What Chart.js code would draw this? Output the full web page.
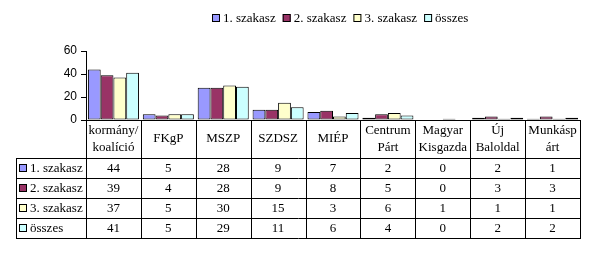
<!DOCTYPE html>
<html>
<head>
<meta charset="utf-8">
<script src="https://cdn.jsdelivr.net/npm/chart.js@4.4.0/dist/chart.umd.min.js"></script>
<style>
  body { margin: 0; background: #fff; }
  canvas { display: block; }
</style>
</head>
<body>
<canvas id="chart" width="595" height="255"></canvas>
<script>
// categories (multi-line header cells of the data table)
const categories = [
  ["kormány/", "koalíció"], ["FKgP"], ["MSZP"], ["SZDSZ"], ["MIÉP"],
  ["Centrum", "Párt"], ["Magyar", "Kisgazda"], ["Új", "Baloldal"], ["Munkásp", "árt"]
];
const seriesNames = ["1. szakasz", "2. szakasz", "3. szakasz", "összes"];
const szakasz1 = [44, 5, 28, 9, 7, 2, 0, 2, 1];
const szakasz2 = [39, 4, 28, 9, 8, 5, 0, 3, 3];
const szakasz3 = [37, 5, 30, 15, 3, 6, 1, 1, 1];
const osszes = [41, 5, 29, 11, 6, 4, 0, 2, 2];
const yTicks = [0, 20, 40, 60];
const colors = ["#9999ff", "#993366", "#ffffcc", "#ccffff"];

const serif = "'Liberation Serif', 'Times New Roman', serif";
const sans = "'Liberation Sans', Arial, sans-serif";

const allSeries = [szakasz1, szakasz2, szakasz3, osszes];

// legend + data table under the plot
const tablePlugin = {
  id: "dataTable",
  afterDraw(chart) {
    const ctx = chart.ctx;
    const x = chart.scales.x;
    const area = chart.chartArea;
    const left = Math.round(area.left);
    const right = Math.round(area.right);
    const top = Math.round(area.bottom);
    const step = (area.right - area.left) / categories.length;
    const rowTops = [158, 178, 198, 218, 238];
    const tableLeft = 16;

    ctx.save();
    ctx.strokeStyle = "#000";
    ctx.lineWidth = 1;
    ctx.beginPath();
    // horizontal lines
    ctx.moveTo(left, top + 0.5); ctx.lineTo(right, top + 0.5);
    rowTops.forEach(y => {
      ctx.moveTo(tableLeft, y + 0.5); ctx.lineTo(right + 1, y + 0.5);
    });
    // vertical lines
    for (let i = 0; i <= categories.length; i++) {
      const vx = Math.round(area.left + i * step) + 0.5;
      ctx.moveTo(vx, top); ctx.lineTo(vx, rowTops[4] + 1);
    }
    ctx.moveTo(tableLeft + 0.5, rowTops[0]); ctx.lineTo(tableLeft + 0.5, rowTops[4] + 1);
    ctx.stroke();

    ctx.fillStyle = "#000";
    ctx.font = "13px " + serif;
    ctx.textAlign = "center";
    ctx.textBaseline = "middle";
    // header
    categories.forEach((lab, i) => {
      const cx = x.getPixelForValue(i);
      if (lab.length === 1) {
        ctx.fillText(lab[0], cx, 139);
      } else {
        ctx.fillText(lab[0], cx, 131);
        ctx.fillText(lab[1], cx, 148);
      }
    });
    // rows
    allSeries.forEach((vals, r) => {
      const cy = rowTops[r] + 10;
      vals.forEach((v, i) => {
        ctx.fillStyle = "#000";
        ctx.textAlign = "center";
        ctx.fillText(String(v), x.getPixelForValue(i), cy + 1);
      });
      ctx.fillStyle = colors[r];
      ctx.fillRect(19, cy - 4, 8, 8);
      ctx.strokeRect(19.5, cy - 3.5, 7, 7);
      ctx.fillStyle = "#000";
      ctx.textAlign = "left";
      ctx.fillText(seriesNames[r], 30, cy + 1);
    });

    // legend
    let lx = 212;
    const ly = 18;
    ctx.textAlign = "left";
    seriesNames.forEach((name, i) => {
      ctx.fillStyle = colors[i];
      ctx.fillRect(lx, ly - 4, 8, 8);
      ctx.strokeRect(lx + 0.5, ly - 3.5, 7, 7);
      ctx.fillStyle = "#000";
      ctx.fillText(name, lx + 11, ly + 1);
      lx += 11 + ctx.measureText(name).width + 7;
    });
    ctx.restore();
  }
};

new Chart(document.getElementById("chart"), {
  type: "bar",
  data: {
    labels: categories,
    datasets: seriesNames.map((name, i) => ({
      label: name,
      data: allSeries[i],
      backgroundColor: colors[i],
      borderColor: "#000",
      borderWidth: 1,
      borderSkipped: false,
      categoryPercentage: 0.93,
      barPercentage: 1.0,
    })),
  },
  options: {
    responsive: false,
    devicePixelRatio: 1,
    animation: false,
    layout: { padding: { left: 0, right: 15, top: 51, bottom: 135 } },
    plugins: {
      legend: { display: false },
      tooltip: { enabled: false },
    },
    scales: {
      x: {
        ticks: { display: false },
        grid: { display: false },
        border: { display: false },
        afterFit(scale) { scale.height = 0; },
      },
      y: {
        min: 0,
        max: 60,
        afterBuildTicks(scale) { scale.ticks = yTicks.map(v => ({ value: v })); },
        ticks: {
          color: "#000",
          padding: 4,
          font: { family: sans, size: 12 },
        },
        grid: {
          drawOnChartArea: false,
          drawTicks: true,
          tickLength: 5,
          color: "#000",
        },
        border: { color: "#000", width: 1 },
        afterFit(scale) { scale.width = 86; },
      },
    },
  },
  plugins: [tablePlugin],
});
</script>
</body>
</html>
